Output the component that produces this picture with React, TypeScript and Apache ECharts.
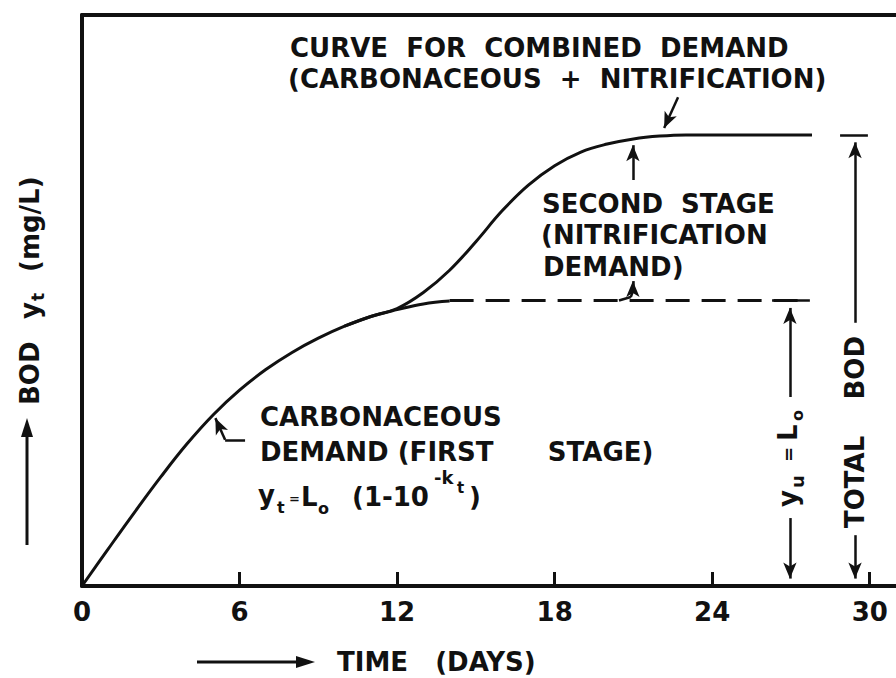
import React, { useEffect, useRef } from 'react';
import * as echarts from 'echarts';

// ---- data ----
const dayTicks = [0, 6, 12, 18, 24, 30];
const firstStageDays = [0, 1, 2, 3, 4, 5, 6, 7, 8, 9, 10, 11, 12, 13, 14];
const firstStageBod = [0, 6.5, 12.9, 19.1, 24.9, 30.0, 34.3, 37.9, 40.9, 43.4, 45.5, 47.2, 48.4, 49.4, 49.9];
const ultimateDays = [14, 27.7];
const ultimateBod = [50, 50];
const combinedDays = [10, 11, 12, 13, 14, 15, 16, 17, 18, 19, 20, 21, 22, 23, 25, 27.8];
const combinedBod = [45.5, 47.2, 48.6, 51.4, 55.3, 60.3, 65.7, 70.2, 73.6, 76.0, 77.4, 78.3, 78.8, 79.0, 79.0, 79.0];

// annotation anchors (data units: day, BOD)
const lZeroDay = 26.96;
const totalDay = 29.44;
const lZero = 50;
const totalBod = 79;

const FONT = '"DejaVu Sans", "Liberation Sans", sans-serif';
const INK = '#111';

function txt(x: number, y: number, text: string, size = 26, extra: any = {}) {
  return {
    type: 'text',
    x,
    y,
    silent: true,
    ...extra,
    style: {
      text,
      fontFamily: FONT,
      fontWeight: 'bold',
      fontSize: size,
      fill: INK,
      align: extra.align || 'left',
      verticalAlign: 'middle',
    },
  };
}

function rtxt(x: number, y: number, text: string, size = 26, align = 'left') {
  const t: any = txt(x, y, text, size, { rotation: Math.PI / 2 });
  t.style.align = align;
  return t;
}

function seg(a: number[], b: number[], arrowEnd = false) {
  return [
    { coord: a, symbol: 'none' },
    { coord: b, symbol: arrowEnd ? 'arrow' : 'none' },
  ];
}

export default function App() {
  const ref = useRef<HTMLDivElement>(null);
  useEffect(() => {
    if (!ref.current) return;
    const chart = echarts.init(ref.current, null, { renderer: 'svg' });
    const lineBase = {
      type: 'line',
      showSymbol: false,
      symbol: 'none',
      silent: true,
      animation: false,
      xAxisIndex: 0,
      yAxisIndex: 0,
    };
    const option: any = {
      animation: false,
      backgroundColor: '#fff',
      grid: { left: 82, right: 0, top: 15, bottom: 92, containLabel: false, outerBoundsMode: 'none' },
      xAxis: [
        {
          type: 'value',
          min: 0,
          max: 31,
          interval: 6,
          position: 'bottom',
          axisLine: { show: true, onZero: false, lineStyle: { color: INK, width: 4 } },
          axisTick: { show: true, inside: true, length: 14, customValues: dayTicks, lineStyle: { color: INK, width: 3 } },
          axisLabel: {
            show: true,
            customValues: dayTicks,
            margin: 13,
            color: INK,
            fontFamily: FONT,
            fontWeight: 'bold',
            fontSize: 26,
          },
          splitLine: { show: false },
        },
        {
          type: 'value',
          min: 0,
          max: 31,
          position: 'top',
          axisLine: { show: true, onZero: false, lineStyle: { color: INK, width: 4 } },
          axisTick: { show: false },
          axisLabel: { show: false },
          splitLine: { show: false },
        },
      ],
      yAxis: {
        type: 'value',
        min: 0,
        max: 100,
        axisLine: { show: true, onZero: false, lineStyle: { color: INK, width: 4 } },
        axisTick: { show: false },
        axisLabel: { show: false },
        splitLine: { show: false },
      },
      series: [
        {
          ...lineBase,
          name: 'first stage',
          smooth: 0.4,
          data: firstStageDays.map((d, i) => [d, firstStageBod[i]]),
          lineStyle: { color: INK, width: 3 },
        },
        {
          ...lineBase,
          name: 'combined',
          smooth: 0.4,
          data: combinedDays.map((d, i) => [d, combinedBod[i]]),
          lineStyle: { color: INK, width: 3 },
        },
        {
          ...lineBase,
          name: 'ultimate first stage',
          data: ultimateDays.map((d, i) => [d, ultimateBod[i]]),
          lineStyle: { color: INK, width: 3, type: [24, 12] },
          markLine: {
            silent: true,
            animation: false,
            symbolSize: [10, 16],
            label: { show: false },
            emphasis: { disabled: true },
            lineStyle: { color: INK, width: 2.5, type: 'solid' },
            data: [
              // y_u = L0 dimension
              seg([26.28, lZero], [27.72, lZero]),
              seg([lZeroDay, 33.1], [lZeroDay, lZero - 1.3], true),
              seg([lZeroDay, 11.9], [lZeroDay, 1.3], true),
              // total BOD dimension
              seg([28.87, totalBod], [29.93, totalBod]),
              seg([totalDay, 46.1], [totalDay, totalBod - 1.3], true),
              seg([totalDay, 8.9], [totalDay, 1.3], true),
              // pointer to combined curve
              seg([22.7, 85.6], [22.17, 80.2], true),
              // second stage arrow up
              seg([20.98, 71.1], [20.98, 77.2], true),
              // carbonaceous pointer
              seg([6.21, 25.6], [5.45, 25.6]),
              seg([5.45, 25.6], [5.08, 29.4], true),
              // DEMAND) hook
              seg([20.45, 50.0], [20.9, 50.6]),
              seg([20.9, 50.6], [20.98, 51.6]),
              seg([20.98, 51.6], [20.98, 53.4], true),
            ],
          },
        },
      ],
      graphic: [
        txt(290, 48, 'CURVE  FOR  COMBINED  DEMAND'),
        txt(288, 79, '(CARBONACEOUS  +  NITRIFICATION)'),
        txt(542, 204, 'SECOND  STAGE'),
        txt(541, 235, '(NITRIFICATION'),
        txt(543, 267, 'DEMAND)'),
        txt(260, 417, 'CARBONACEOUS'),
        txt(260, 452, 'DEMAND (FIRST      STAGE)'),
        // formula y_t = L_o (1 - 10^-kt)
        txt(258, 495, 'y'),
        txt(277, 507, 't', 16),
        txt(289, 498, '=', 13),
        txt(301, 497, 'L'),
        txt(318, 508, 'o', 16),
        txt(352, 497, '(1-10'),
        txt(434, 477, '-k', 18),
        txt(457, 488, 't', 15),
        txt(469, 497, ')'),
        // y axis title
        rtxt(30, 405, 'BOD'),
        rtxt(30, 319, 'y'),
        rtxt(38, 301, 't', 17),
        rtxt(30, 272, '(mg/L)'),
        // y_u = L_o
        rtxt(788, 507, 'y'),
        rtxt(797, 488, 'u', 18),
        rtxt(788, 462, '=', 18),
        rtxt(788, 441, 'L'),
        rtxt(797, 421, 'o', 16),
        // total BOD
        rtxt(855, 432, 'TOTAL    BOD', 26, 'center'),
        // x axis title
        txt(337, 662, 'TIME   (DAYS)'),
        { type: 'line', silent: true, shape: { x1: 197, y1: 662, x2: 300, y2: 662 }, style: { stroke: INK, lineWidth: 3 } },
        { type: 'polygon', silent: true, shape: { points: [[296, 656], [315, 662], [296, 668]] }, style: { fill: INK } },
        { type: 'line', silent: true, shape: { x1: 27, y1: 545, x2: 27, y2: 432 }, style: { stroke: INK, lineWidth: 3 } },
        { type: 'polygon', silent: true, shape: { points: [[21, 437], [27, 418], [33, 437]] }, style: { fill: INK } },
      ],
    };
    chart.setOption(option);
    return () => chart.dispose();
  }, []);
  return (
    <div
      ref={ref}
      style={{ position: 'fixed', left: 0, top: 0, width: 896, height: 678, background: '#fff' }}
    />
  );
}
